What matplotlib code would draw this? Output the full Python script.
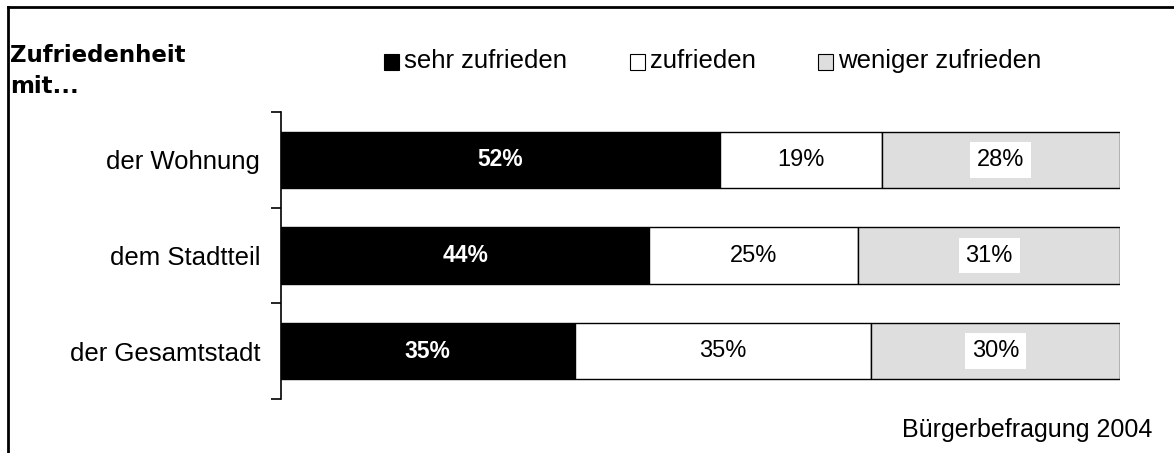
import matplotlib.pyplot as plt
from matplotlib.patches import Rectangle
from matplotlib.lines import Line2D

categories = ['der Wohnung', 'dem Stadtteil', 'der Gesamtstadt']
sehr_zufrieden = [52.3, 43.9, 35.0]
zufrieden = [19.3, 24.9, 35.3]
weniger_zufrieden = [28.4, 31.2, 29.7]
labels_sehr = ['52%', '44%', '35%']
labels_zuf = ['19%', '25%', '35%']
labels_wen = ['28%', '31%', '30%']
series_names = ['sehr zufrieden', 'zufrieden', 'weniger zufrieden']

plt.rcParams['font.family'] = ['Liberation Sans', 'DejaVu Sans']

W, H = 1174, 453
fig = plt.figure(figsize=(W / 100, H / 100), dpi=100)
ax = fig.add_axes([281 / W, 1 - 399 / H, (1120 - 281) / W, (399 - 112) / H])

y = list(range(len(categories)))
bh = 0.59
grey = '#dedede'
ax.barh(y, sehr_zufrieden, height=bh, color='black', edgecolor='black', linewidth=1)
left2 = sehr_zufrieden
ax.barh(y, zufrieden, left=left2, height=bh, color='white', edgecolor='black', linewidth=1)
left3 = [a + b for a, b in zip(sehr_zufrieden, zufrieden)]
ax.barh(y, weniger_zufrieden, left=left3, height=bh, color=grey, edgecolor='black', linewidth=1)

for i in y:
    ax.text(sehr_zufrieden[i] / 2, i, labels_sehr[i], ha='center', va='center',
            color='white', fontsize=16.5, fontweight='bold')
    ax.text(left2[i] + zufrieden[i] / 2, i, labels_zuf[i], ha='center', va='center',
            color='black', fontsize=17)
    ax.text(left3[i] + weniger_zufrieden[i] / 2, i, labels_wen[i], ha='center', va='center',
            color='black', fontsize=17,
            bbox=dict(facecolor='white', edgecolor='none', pad=5))

ax.set_xlim(0, 100)
ax.set_ylim(len(categories) - 0.5, -0.5)
ax.set_yticks([i - 0.5 for i in range(len(categories) + 1)])
ax.set_yticklabels([])
ax.set_yticks(y, minor=True)
ax.set_yticklabels(categories, minor=True, fontsize=18.5)
ax.tick_params(axis='y', which='minor', length=0, pad=15)
ax.tick_params(axis='y', which='major', length=7, width=1.2)
ax.set_xticks([])
for s in ['top', 'right', 'bottom']:
    ax.spines[s].set_visible(False)
ax.spines['left'].set_linewidth(1.2)

# title
fig.text(10 / W, 1 - 62 / H, 'Zufriedenheit', ha='left', va='baseline',
         fontsize=16.5, fontweight='bold', family='DejaVu Sans')
fig.text(10 / W, 1 - 93 / H, 'mit...', ha='left', va='baseline',
         fontsize=16.5, fontweight='bold', family='DejaVu Sans')

# legend
colors = ['black', 'white', grey]
box_x = [384, 630, 818]
for bx, c, name in zip(box_x, colors, series_names):
    fig.add_artist(Rectangle((bx / W, 1 - 70 / H), 15 / W, 16 / H, facecolor=c,
                             edgecolor='black', linewidth=0.8, transform=fig.transFigure))
    fig.text((bx + 20) / W, 1 - 68 / H, name, ha='left', va='baseline', fontsize=18.5)

fig.text(1152 / W, 1 - 437 / H, 'Bürgerbefragung 2004', ha='right', va='baseline', fontsize=18)

# frame
fig.add_artist(Line2D([8 / W, 8 / W], [0, 1 - 7 / H], color='black', linewidth=2, transform=fig.transFigure))
fig.add_artist(Line2D([8 / W, 1], [1 - 7 / H, 1 - 7 / H], color='black', linewidth=2, transform=fig.transFigure))

fig.savefig('out.png', dpi=100)
